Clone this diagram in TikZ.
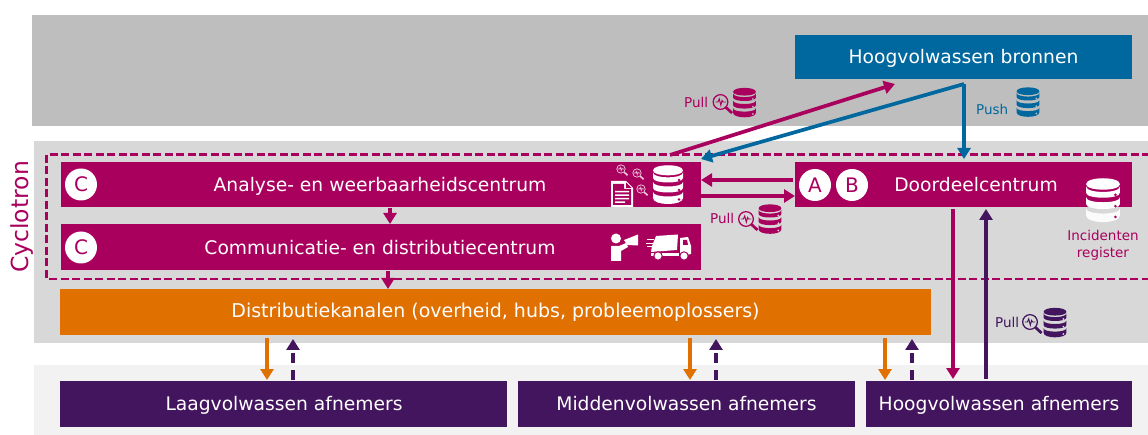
\documentclass[tikz,border=0pt]{standalone}
\usepackage{fontspec}
\setmainfont{DejaVu Sans}
\usetikzlibrary{arrows.meta,calc}
\definecolor{mag}{HTML}{A9005E}
\definecolor{blu}{HTML}{00689E}
\definecolor{pur}{HTML}{43155E}
\definecolor{ora}{HTML}{E07000}
\definecolor{pg}{HTML}{BEBEBE}
\definecolor{pm}{HTML}{D8D8D8}
\definecolor{pb}{HTML}{F2F2F2}
\tikzset{
  bx/.style={fill=#1,draw=none,inner sep=0,outer sep=0},
  boxtext/.style={inner sep=0,anchor=base,text=white,font=\fontsize{18.7}{22}\selectfont},
  badge/.style={circle,fill=white,text=mag,draw=none,inner sep=0,minimum size=32pt,font=\fontsize{20}{22}\selectfont},
  lab/.style={inner sep=0,text=#1,font=\fontsize{13.5}{16}\selectfont},
  arr/.style={draw=#1,line width=3.7pt,-{Triangle[length=11pt,width=13pt]}},
  dsh/.style={draw=#1,line width=3.7pt,dash pattern=on 10pt off 7pt,-{Triangle[length=11pt,width=13pt]}},
  frame/.style={draw=mag,line width=2.4pt,dash pattern=on 8pt off 3.5pt}
}
\newcommand{\dbicon}[7]{% x, y, scale, top colour, mid, low, bg
  \begin{scope}[shift={(#1,#2)},scale=#3]
    \fill[#4] (-15,-14) .. controls (-15,-21) and (15,-21) .. (15,-14) .. controls (15,-7.5) and (-15,-7.5) .. (-15,-14) -- cycle;
    \fill[#4] (-15,-12) .. controls (-15,-5.5) and (15,-5.5) .. (15,-12) -- (15,-6.5) .. controls (15,-0.5) and (-15,-0.5) .. (-15,-6.5) -- cycle;
    \fill[#5] (-15,-2.5) .. controls (-15,3.5) and (15,3.5) .. (15,-2.5) -- (15,3.5) .. controls (15,9.5) and (-15,9.5) .. (-15,3.5) -- cycle;
    \fill[#6] (-15,7.5) .. controls (-15,13.5) and (15,13.5) .. (15,7.5) -- (15,13.5) .. controls (15,21.5) and (-15,21.5) .. (-15,13.5) -- cycle;
    \fill[#7] (11,-4.5) circle (1.3) (11,5.5) circle (1.3) (11,15) circle (1.3);
  \end{scope}
}
\newcommand{\magn}[4]{% x, y, scale, colour
  \begin{scope}[shift={(#1,#2)},scale=#3]
    \draw[#4,line width=#3*1.2pt] (0,0) circle (7);
    \draw[#4,line width=#3*2.6pt] (5.2,5.2) -- (11,10.5);
    \draw[#4,line width=#3*0.9pt] (-5,0) -- (-2.5,0) -- (-1.2,-3) -- (0.3,3) -- (1.5,-1.5) -- (2.4,0) -- (5,0);
  \end{scope}
}
\begin{document}
\begin{tikzpicture}[x=1pt,y=-1pt]
\useasboundingbox (0,0) rectangle (1148,435);
% panels
\fill[pg] (32,15) rectangle (1148,126);
\fill[pm] (34,141) rectangle (1148,343);
\fill[pb] (34,365) rectangle (1148,435);
% boxes
\node[bx=blu,minimum width=337pt,minimum height=44pt] (bron) at (963.5,57) {};
\node[boxtext] (bront) at (963.5,64) {Hoogvolwassen bronnen};
\node[bx=mag,minimum width=640pt,minimum height=45pt] (ana) at (381,184.5) {};
\node[boxtext] (anat) at (380,192) {Analyse- en weerbaarheidscentrum};
\node[bx=mag,minimum width=640pt,minimum height=46pt] (com) at (381,247) {};
\node[boxtext] (comt) at (380,255) {Communicatie- en distributiecentrum};
\node[bx=mag,minimum width=337pt,minimum height=45pt] (door) at (963.5,184.5) {};
\node[boxtext] (doort) at (976,192) {Doordeelcentrum};
\node[bx=ora,minimum width=871pt,minimum height=46pt] (dist) at (495.5,312) {};
\node[boxtext,font=\fontsize{19}{22}\selectfont] (distt) at (495.5,318) {Distributiekanalen (overheid, hubs, probleemoplossers)};
\node[bx=pur,minimum width=447pt,minimum height=46pt] (laag) at (283.5,404) {};
\node[boxtext] (laagt) at (284,410) {Laagvolwassen afnemers};
\node[bx=pur,minimum width=337pt,minimum height=46pt] (mid) at (686.5,404) {};
\node[boxtext] (midt) at (686.5,410) {Middenvolwassen afnemers};
\node[bx=pur,minimum width=266pt,minimum height=46pt] (hoog) at (999,404) {};
\node[boxtext] (hoogt) at (999,410) {Hoogvolwassen afnemers};
% badges
\node[badge] (c1) at (81,184.5) {C};
\node[badge] (c2) at (81,247.5) {C};
\node[badge] (a) at (815,185) {A};
\node[badge] (b) at (852,185) {B};
% rotated label
\node[rotate=90,inner sep=0,text=mag,font=\fontsize{23.5}{26}\selectfont] (cyc) at (22,217) {Cyclotron};
% dashed frame
\draw[frame] (1150,154.5) -- (46.5,154.5) -- (46.5,279) -- (1150,279);
% free ends
\coordinate (p1) at (670,155);
\coordinate (p2) at (964,84);
% connectors
\draw[arr=mag] (p1) -- (895,84);
\draw[arr=blu] (p2) -- (701,159);
\draw[arr=blu] (p2) -- (964,159);
\draw[arr=mag] ([yshift=4.5pt]door.west) ++(-2,0) -- ([yshift=4.5pt]ana.east);
\draw[arr=mag] ([yshift=-11.5pt]ana.east) -- ([yshift=-11.5pt]door.west);
\draw[arr=mag] (390,208) -- (com.north -| 390,224);
\draw[arr=mag] (388,271) -- (dist.north -| 388,289);
% bottom links
\draw[arr=ora] (267,338) -- (267,380);
\draw[dsh=pur] (293,380) -- (293,339);
\draw[arr=ora] (690,338) -- (690,380);
\draw[dsh=pur] (716,380) -- (716,339);
\draw[arr=ora] (885,338) -- (885,380);
\draw[dsh=pur] (912,380) -- (912,339);
\draw[arr=mag] (953,209) -- (953,379);
\draw[arr=pur] (986,379) -- (986,209);
% labels
\node[lab=mag,anchor=west] (l1) at (684,102) {Pull};
\node[lab=blu,anchor=west] (l2) at (976,109) {Push};
\node[lab=mag,anchor=west] (l3) at (710,218) {Pull};
\node[lab=pur,anchor=west] (l4) at (995,322) {Pull};
\node[lab=mag,align=center,font=\fontsize{13.5}{17}\selectfont] (inc) at (1103,245) {Incidenten\\register};
% icons
\dbicon{744.5}{102.5}{0.76}{mag}{mag}{mag}{pg}
\magn{720.5}{102}{1.05}{mag}
\dbicon{770}{219}{0.76}{mag}{mag}{mag}{pm}
\magn{746}{219}{1.05}{mag}
\dbicon{1055}{322.5}{0.76}{pur}{pur}{pur}{pm}
\magn{1030}{322}{1.05}{pur}
\dbicon{1028}{102}{0.76}{blu}{blu}{blu}{pg}
\dbicon{668}{184.5}{1}{white}{white}{white}{mag}
\dbicon{1103}{200}{1.13}{white}{white}{white!90!pm}{mag}
\magn{621}{169}{0.6}{white!80!mag}
\magn{637}{173}{0.6}{white!80!mag}
\magn{641}{189}{0.6}{white!80!mag}
% document icon
\fill[white] (611,181) -- (626,181) -- (633,188) -- (633,207) -- (611,207) -- cycle;
\fill[mag] (626,182.5) -- (626,188) -- (631.5,188) -- cycle;
\fill[mag] (613,184) rectangle (624,189) (613,189) rectangle (631,205);
\fill[white] (615,191) rectangle (629,192.5) (615,194.5) rectangle (629,196) (615,198) rectangle (629,199.5) (615,201.5) rectangle (625,203);
% person with megaphone
\fill[white] (616,238.5) circle (5);
\fill[white] (611,246) -- (619,246) -- (626,243) -- (628,247) -- (621,251) -- (621,261) -- (611,261) -- cycle;
\fill[white] (624,240) -- (638,234.5) -- (638,245.5) -- (627,245) -- cycle;
% truck
\fill[white] (652,246) -- (656,236) -- (678,234.5) -- (677,250) -- (651,252) -- cycle;
\fill[white] (680,238) -- (688,237) -- (691,246) -- (691,254) -- (680,256) -- cycle;
\fill[white] (651,253) rectangle (679,256.5);
\fill[mag] (683,240) -- (687,240) -- (688,245) -- (683,245) -- cycle;
\draw[mag,line width=1pt,fill=white] (658,256) circle (4.2) (684,256) circle (4.2);
\draw[white,line width=1pt] (647,240) -- (654,240) (646,243.5) -- (653,243.5) (647,247) -- (652,247);
\end{tikzpicture}
\end{document}
